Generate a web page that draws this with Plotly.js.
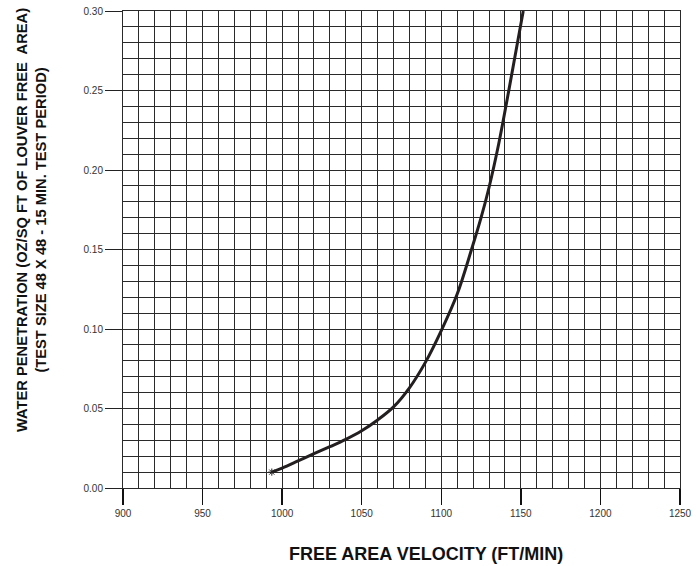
<!DOCTYPE html>
<html>
<head>
<meta charset="utf-8">
<script src="https://cdn.plot.ly/plotly-3.0.1.min.js"></script>
<style>html,body{margin:0;padding:0;background:#fff;}#chart{width:696px;height:566px;}</style>
</head>
<body>
<div id="chart"></div>
<script>
// Free area velocity (ft/min) and water penetration (oz/sq ft)
const velocity = [993.5, 1000, 1010, 1020, 1030, 1040, 1050, 1060, 1070, 1080, 1090, 1100, 1110, 1119, 1125, 1130, 1136, 1141.5, 1145.5, 1151.5];
const penetration = [0.010, 0.0125, 0.017, 0.0216, 0.026, 0.0306, 0.036, 0.0428, 0.051, 0.063, 0.079, 0.099, 0.122, 0.150, 0.170, 0.189, 0.216, 0.245, 0.267, 0.300];
const xTickVals = [900, 950, 1000, 1050, 1100, 1150, 1200, 1250];
const yTickVals = [0.00, 0.05, 0.10, 0.15, 0.20, 0.25, 0.30];
const yTickText = ['0.00', '0.05', '0.10', '0.15', '0.20', '0.25', '0.30'];
const xTitle = 'FREE AREA VELOCITY (FT/MIN)';
const yTitle = 'WATER PENETRATION (OZ/SQ FT OF LOUVER FREE  AREA)<br>(TEST SIZE 48 X 48 - 15 MIN. TEST PERIOD)';

const traces = [
  {
    x: velocity, y: penetration, type: 'scatter', mode: 'lines',
    line: {color: '#231f20', width: 3, shape: 'spline', smoothing: 1.0},
    hoverinfo: 'skip', showlegend: false, cliponaxis: false
  },
  {
    x: [velocity[0]], y: [penetration[0]], type: 'scatter', mode: 'markers',
    marker: {symbol: 'asterisk-open', size: 6, color: '#231f20', line: {color: '#231f20', width: 1}},
    hoverinfo: 'skip', showlegend: false
  }
];

const gridCol = '#2a2a2a';
const titleFont = {color: '#111', family: 'Liberation Sans, Arial, sans-serif', weight: 'bold'};
const layout = {
  width: 696, height: 566,
  margin: {l: 123, r: 16, t: 11, b: 78},
  paper_bgcolor: '#fff', plot_bgcolor: '#fff',
  font: {family: 'Liberation Sans, Arial, sans-serif', color: '#333'},
  xaxis: {
    range: [900, 1250], tickvals: xTickVals, ticks: 'outside', ticklen: 16, tickwidth: 1.3, tickcolor: '#111',
    tickfont: {size: 10, color: '#333'},
    showgrid: true, gridcolor: gridCol, gridwidth: 1,
    minor: {dtick: 10, showgrid: true, gridcolor: gridCol, gridwidth: 1},
    showline: true, linecolor: gridCol, linewidth: 1, mirror: true, zeroline: false
  },
  yaxis: {
    range: [0, 0.30], tickvals: yTickVals, ticktext: yTickText, ticks: 'outside', ticklen: 17, tickwidth: 1, tickcolor: '#222',
    tickfont: {size: 10, color: '#333'},
    showgrid: true, gridcolor: gridCol, gridwidth: 1,
    minor: {dtick: 0.01, showgrid: true, gridcolor: gridCol, gridwidth: 1},
    showline: true, linecolor: gridCol, linewidth: 1, mirror: true, zeroline: false
  },
  annotations: [
    {text: xTitle, xref: 'paper', yref: 'paper', x: (426 - 123) / 557, y: -(554 - 488) / 477,
     xanchor: 'center', yanchor: 'middle', showarrow: false, font: Object.assign({size: 18}, titleFont)},
    {text: yTitle, xref: 'paper', yref: 'paper', x: -(123 - 31) / 557, y: (488 - 220) / 477,
     xanchor: 'center', yanchor: 'middle', textangle: -90, showarrow: false, align: 'center',
     font: Object.assign({size: 14.7}, titleFont)}
  ]
};

Plotly.newPlot('chart', traces, layout, {displayModeBar: false, staticPlot: true});
</script>
</body>
</html>
